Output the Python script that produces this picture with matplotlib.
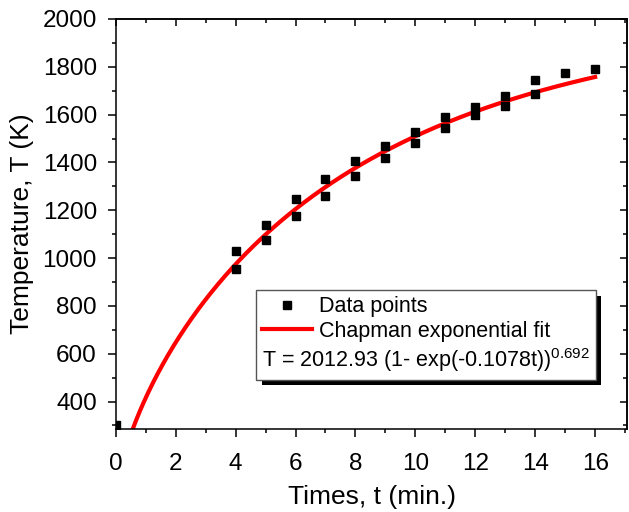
import numpy as np
import matplotlib.pyplot as plt
import matplotlib.patheffects as pe
from matplotlib.ticker import MultipleLocator

plt.rcParams['font.family'] = ['Liberation Sans', 'DejaVu Sans']
plt.rcParams['mathtext.fontset'] = 'custom'
plt.rcParams['mathtext.rm'] = 'Liberation Sans'

# measured temperatures (two readings per minute from 4 to 14 min)
t_data = [0, 4, 4, 5, 5, 6, 6, 7, 7, 8, 8, 9, 9, 10, 10,
          11, 11, 12, 12, 13, 13, 14, 14, 15, 16]
T_data = [300, 1028, 956, 1138, 1074, 1245, 1174, 1332, 1261, 1407, 1345,
          1470, 1418, 1528, 1482, 1588, 1542, 1630, 1598, 1678, 1635,
          1744, 1685, 1774, 1792]

# Chapman exponential fit parameters
T_inf = 2012.93
k = 0.1078
p = 0.692

t_fit = np.linspace(0, 16, 400)
T_fit = T_inf * (1 - np.exp(-k * t_fit)) ** p

fig = plt.figure(figsize=(6.29, 5.12), dpi=100)
ax = fig.add_axes([0.184, 0.162, 0.8136, 0.801])

ax.plot(t_data, T_data, 's', color='black', markersize=5.5,
        label='Data points', zorder=3)
ax.plot(t_fit, T_fit, '-', color='red', lw=3, label='Chapman exponential fit',
        zorder=2)
# formula row of the legend, no handle
ax.plot([], [], ' ',
        label=r'T = 2012.93 (1- exp(-0.1078t))$^{\mathrm{0.692}}$')

ax.set_xlim(0, 17.08)
ax.set_ylim(285, 2000)
ax.xaxis.set_major_locator(MultipleLocator(2))
ax.xaxis.set_minor_locator(MultipleLocator(1))
ax.yaxis.set_minor_locator(MultipleLocator(100))
ax.set_yticks(np.arange(400, 2001, 200))

for s in ax.spines.values():
    s.set_linewidth(1.1)
ax.tick_params(which='major', direction='out', length=5.5, width=1.1,
               labelsize=17.5)
ax.tick_params(axis='x', pad=12)
ax.tick_params(axis='y', pad=8)
ax.tick_params(which='minor', direction='out', length=3, width=1.1)

# mirrored ticks pointing inward on top and right
top = ax.secondary_xaxis('top')
top.xaxis.set_major_locator(MultipleLocator(2))
top.xaxis.set_minor_locator(MultipleLocator(1))
right = ax.secondary_yaxis('right')
right.yaxis.set_major_locator(MultipleLocator(200))
right.yaxis.set_minor_locator(MultipleLocator(100))
for sec in (top, right):
    sec.tick_params(which='major', direction='in', length=5, width=1.1,
                    labelleft=False, labelright=False,
                    labeltop=False, labelbottom=False)
    sec.tick_params(which='minor', direction='in', length=3, width=1.1)
    for s in sec.spines.values():
        s.set_linewidth(1.1)

ax.set_xlabel('Times, t (min.)', fontsize=19, labelpad=7)
ax.set_ylabel('Temperature, T (K)', fontsize=19, labelpad=6)

leg = ax.legend(loc='upper right', bbox_to_anchor=(0.938, 0.339),
                borderaxespad=0, fontsize=15.5, frameon=True, fancybox=False,
                handlelength=2.3, handletextpad=0.33, labelspacing=0.18,
                borderpad=0.28, numpoints=1)
frame = leg.get_frame()
frame.set_edgecolor('#555555')
frame.set_linewidth(1.0)
frame.set_alpha(1)
frame.set_path_effects([
    pe.SimplePatchShadow(offset=(4, -4), shadow_rgbFace='black', alpha=1),
    pe.Normal()])

# pull the formula row flush with the left edge of the box
rows = leg._legend_handle_box.get_children()[0].get_children()
formula_row = rows[2]
formula_row.get_children()[0].width = 0
formula_row.sep = 0

fig.savefig('out.png', dpi=100)
